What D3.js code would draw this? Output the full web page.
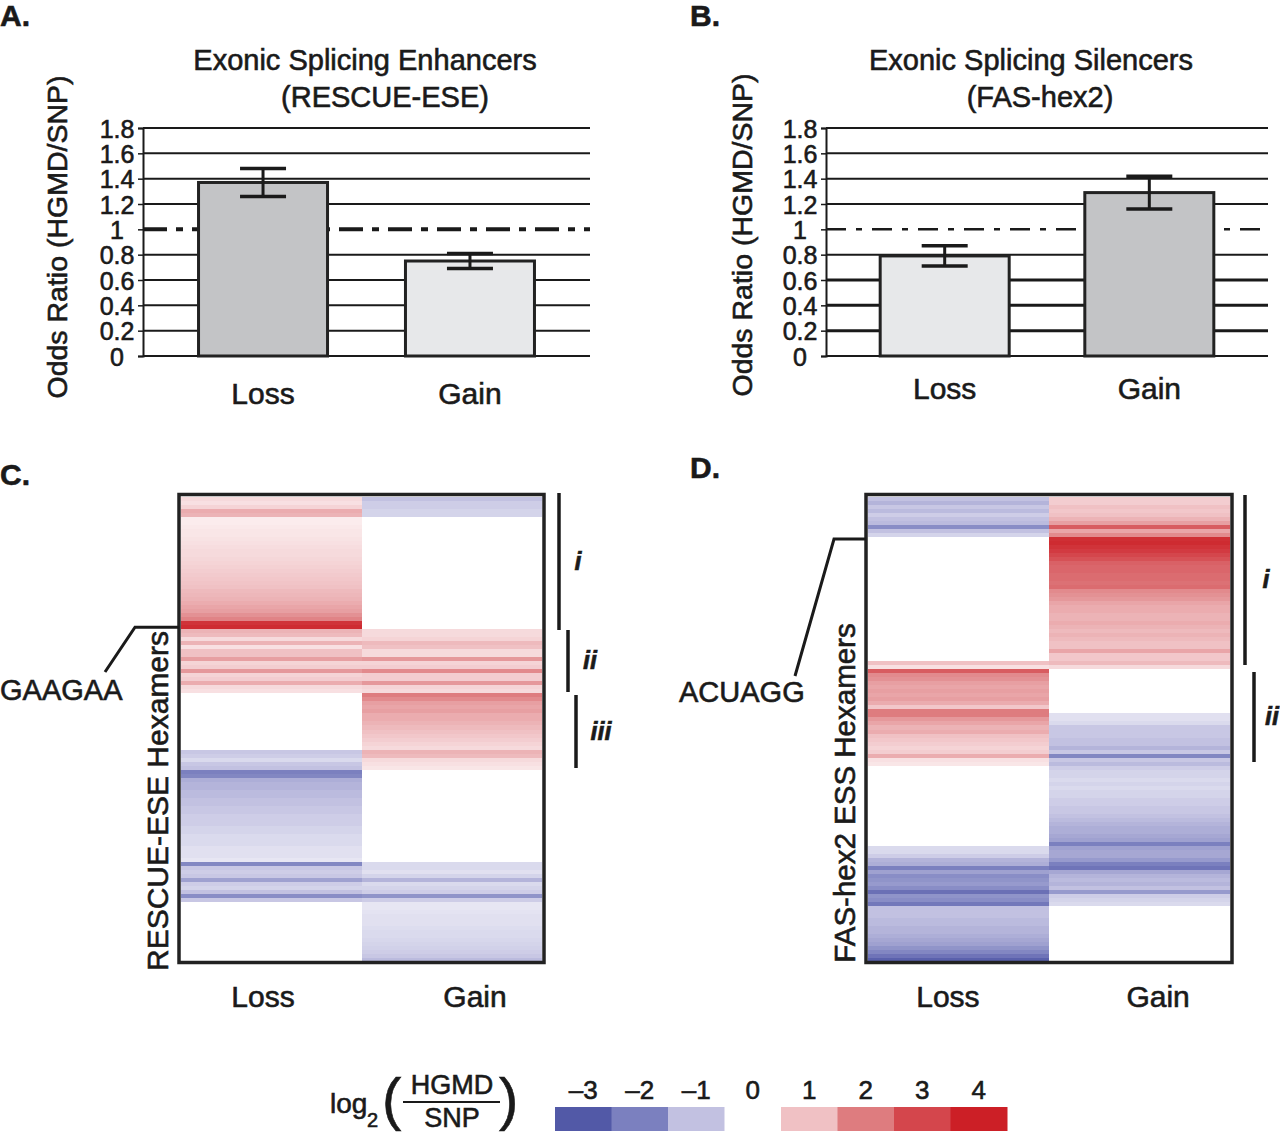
<!DOCTYPE html>
<html>
<head>
<meta charset="utf-8">
<script src="https://cdn.jsdelivr.net/npm/d3@7"></script>
<style>
  body { margin: 0; background: #fff; }
  svg { display: block; font-family: "Liberation Sans", Arial, Helvetica, sans-serif; }
  svg text { stroke: #1a1a1a; stroke-width: 0.6px; }
</style>
</head>
<body>
<div id="chart"></div>
<script>
// ---- data ----
const categories = ["Loss", "Gain"];

// panel A: RESCUE-ESE odds ratios
const eseValues = [1.37, 0.75];
const eseErrLow = [1.26, 0.69];
const eseErrHigh = [1.48, 0.81];

// panel B: FAS-hex2 odds ratios
const essValues = [0.79, 1.29];
const essErrLow = [0.71, 1.16];
const essErrHigh = [0.87, 1.42];

const yTicks = [0, 0.2, 0.4, 0.6, 0.8, 1, 1.2, 1.4, 1.6, 1.8];

// panel C heatmap, log2(HGMD/SNP) per hexamer row (top to bottom)
const eseLoss = [
  0.6, 0.5, 0.7, 1.3, 1.2,
  0.3, 0.3, 0.35, 0.4, 0.4, 0.45, 0.5, 0.55, 0.6, 0.6, 0.65, 0.7, 0.75, 0.8, 0.85,
  0.9, 0.95, 1.0, 1.1, 1.15, 1.2, 1.3, 1.4, 1.5, 1.7, 1.9, 3.5, 3.7,
  1.2, 1.1, 0.6, 1.2, 0.5, 1.0, 1.0, 1.5, 0.7, 0.8, 1.6, 0.7, 0.8, 1.3, 0.6, 0.5,
  0, 0, 0, 0, 0, 0, 0, 0, 0, 0, 0, 0, 0, 0,
  -0.9, -0.8, -0.6, -0.9, -1.0,
  -2.0, -1.9, -1.3, -1.2, -1.2, -1.1, -1.1, -1.0, -1.0, -0.9, -0.9, -0.8, -0.8, -0.8,
  -0.7, -0.7, -0.6, -0.6, -0.6, -0.5, -0.5, -0.5, -0.4,
  -1.9, -0.9, -0.8, -0.9, -1.5, -0.8, -0.7, -1.0, -1.8, -0.9,
  0, 0, 0, 0, 0, 0, 0, 0, 0, 0, 0, 0, 0, 0, 0
];
const eseGain = [
  -1.0, -0.8, -0.8, -0.7, -0.7,
  0, 0, 0, 0, 0, 0, 0, 0, 0, 0, 0, 0, 0, 0, 0, 0, 0, 0, 0, 0, 0, 0, 0, 0, 0, 0, 0, 0,
  0.6, 0.6, 0.7, 1.1, 1.0, 0.6, 0.6, 1.6, 0.7, 0.8, 1.8, 0.8, 0.8, 1.6, 0.7, 0.6,
  2.0, 1.8, 1.5, 1.4, 1.5, 1.3, 1.3, 1.2, 1.1, 1.0, 0.9, 0.8, 0.7, 0.6,
  1.2, 1.1, 0.6, 0.5, 0.4,
  0, 0, 0, 0, 0, 0, 0, 0, 0, 0, 0, 0, 0, 0, 0, 0, 0, 0, 0, 0, 0, 0, 0,
  -0.6, -0.6, -0.5, -0.7, -1.2, -0.6, -0.7, -0.8, -1.7, -0.8,
  -0.4, -0.4, -0.45, -0.5, -0.5, -0.5, -0.55, -0.6, -0.6, -0.65, -0.7, -0.75, -0.8, -0.9, -1.1
];

// panel D heatmap
const essLoss = [
  -1.0, -1.2, -0.9, -1.1, -0.8, -1.0, -1.1, -1.8, -1.0, -0.7,
  0, 0, 0, 0, 0, 0, 0, 0, 0, 0, 0, 0, 0, 0, 0, 0, 0, 0, 0, 0, 0, 0, 0, 0, 0, 0, 0, 0, 0, 0, 0,
  1.0, 0.5,
  2.6, 1.8, 1.7, 1.5, 1.4, 1.5, 1.4, 1.5, 1.3, 0.9, 2.0,
  2.0, 1.6, 1.4, 1.2, 1.3, 1.0, 0.9, 0.8, 0.7, 0.8, 1.3, 0.5, 0.4,
  0, 0, 0, 0, 0, 0, 0, 0, 0, 0, 0, 0, 0, 0, 0, 0, 0, 0, 0, 0,
  -0.6, -0.6, -0.8, -1.2, -1.3, -2.0, -1.5, -1.8, -1.7, -1.6, -1.8, -2.4, -1.7, -1.8, -2.2,
  -1.0, -1.0, -1.0, -1.1, -1.1, -1.2, -1.2, -1.3, -1.4, -1.5, -1.7, -1.9, -2.3, -2.8
];
const essGain = [
  0.8, 0.8, 1.0, 0.9, 1.0, 1.2, 1.5, 2.6, 1.4, 1.8,
  3.6, 3.7, 3.5, 3.3, 3.0, 2.8, 2.5, 2.4, 2.4, 2.3, 2.3, 2.2, 2.3, 1.8, 1.7,
  1.6, 1.4, 1.3, 1.3, 1.2, 1.2, 1.3, 1.2, 1.1, 1.2, 1.1, 1.0, 1.0, 1.4, 0.9, 0.9,
  1.1, 0.6,
  0, 0, 0, 0, 0, 0, 0, 0, 0, 0, 0,
  -0.5, -0.5, -0.6, -0.9, -0.9, -0.9, -1.0, -1.0, -1.2, -0.9, -1.9, -0.9, -1.1,
  -0.8, -0.7, -0.7, -0.6, -0.7, -0.6, -0.7, -0.7, -0.8, -0.8, -0.9, -0.9, -1.0, -1.1,
  -1.2, -1.3, -1.3, -1.4, -1.5, -2.0,
  -1.5, -1.4, -1.4, -1.6, -2.0, -2.3, -1.4, -1.2, -1.1, -1.2, -1.0, -1.6, -0.8, -0.7, -0.6,
  0, 0, 0, 0, 0, 0, 0, 0, 0, 0, 0, 0, 0, 0
];

// legend
const legendSteps = [-3, -2, -1, 0, 1, 2, 3, 4];
const legendColors = ["#5259a7", "#7b80bf", "#c2c1e1", "#ffffff", "#f0c1c4", "#de7c7f", "#d4464c", "#cc1f26"];

const W = 1280, H = 1134;
const svg = d3.select("#chart").append("svg").attr("width", W).attr("height", H);

const heatColor = d3.scaleLinear().domain(legendSteps).range(legendColors).clamp(true);
const ink = "#1a1a1a";

// category positions shared by bar chart and heatmap below it
function catScale(x0, x1) {
  return d3.scalePoint().domain(categories).range([x0, x1]).padding(0.58);
}

// ---- bar chart panels ----
function barPanel(o) {
  const g = svg.append("g");
  const y = d3.scaleLinear().domain([0, 1.8]).range([356, 128]);
  const x = catScale(o.x0, o.x1);
  const bw = 129;

  // gridlines
  g.selectAll("line.grid").data(yTicks.filter(t => t !== 1)).enter()
    .append("line")
    .attr("x1", o.x0).attr("x2", o.x1)
    .attr("y1", d => y(d)).attr("y2", d => y(d))
    .attr("stroke", ink).attr("stroke-width", d => d === 0 ? 2 : o.gridW(d));

  // reference line at 1
  g.append("line")
    .attr("x1", o.x0).attr("x2", o.x1).attr("y1", y(1)).attr("y2", y(1))
    .attr("stroke", ink).attr("stroke-width", o.refW)
    .attr("stroke-dasharray", o.refDash);

  // axis
  const ax = g.append("g").attr("transform", `translate(${o.x0},0)`)
    .call(d3.axisLeft(y).tickValues(yTicks).tickSize(5).tickFormat(d3.format("~g")));
  ax.select(".domain").attr("stroke", ink).attr("stroke-width", 2);
  ax.selectAll(".tick line").attr("stroke", ink).attr("stroke-width", 1.5);
  ax.selectAll(".tick text")
    .attr("x", -26).attr("text-anchor", "middle")
    .attr("font-size", 25).attr("font-family", "Liberation Sans, Arial, sans-serif")
    .attr("fill", ink).attr("dy", "0.36em");

  // bars
  g.selectAll("rect.bar").data(o.values).enter()
    .append("rect")
    .attr("x", (d, i) => x(categories[i]) - bw / 2)
    .attr("width", bw)
    .attr("y", d => y(d))
    .attr("height", d => y(0) - y(d))
    .attr("fill", (d, i) => o.fills[i])
    .attr("stroke", "#222").attr("stroke-width", 3);

  // error bars
  const cap = 23;
  categories.forEach((c, i) => {
    const cx = x(c);
    g.append("line").attr("x1", cx).attr("x2", cx)
      .attr("y1", y(o.lo[i])).attr("y2", y(o.hi[i]))
      .attr("stroke", ink).attr("stroke-width", 3);
    [o.lo[i], o.hi[i]].forEach(v => {
      g.append("line").attr("x1", cx - cap).attr("x2", cx + cap)
        .attr("y1", y(v)).attr("y2", y(v))
        .attr("stroke", ink).attr("stroke-width", 3.5);
    });
    g.append("text").attr("x", cx).attr("y", o.catY)
      .attr("text-anchor", "middle").attr("font-size", 30).attr("fill", ink)
      .text(c);
  });

  // y label
  g.append("text")
    .attr("transform", `translate(${o.ylabX},${o.ylabY}) rotate(-90)`)
    .attr("text-anchor", "middle").attr("dy", "0.35em")
    .attr("font-size", 28.5).attr("fill", ink)
    .text("Odds Ratio (HGMD/SNP)");

  // title
  g.append("text").attr("x", o.t1x).attr("y", 70).attr("text-anchor", "middle")
    .attr("font-size", 29).attr("fill", ink).text(o.title1);
  g.append("text").attr("x", o.t2x).attr("y", 107).attr("text-anchor", "middle")
    .attr("font-size", 29).attr("fill", ink).text(o.title2);

  g.append("text").attr("x", o.letterX).attr("y", 26)
    .attr("font-size", 30).attr("font-weight", "bold").attr("fill", ink).text(o.letter);
}

barPanel({
  x0: 143, x1: 590, values: eseValues, lo: eseErrLow, hi: eseErrHigh,
  fills: ["#c3c4c6", "#e7e8ea"], refW: 4, refDash: "24 9 7 9",
  gridW: () => 2, catY: 404, ylabX: 57, ylabY: 237,
  title1: "Exonic Splicing Enhancers", title2: "(RESCUE-ESE)", t1x: 365, t2x: 385,
  letter: "A.", letterX: 0
});
barPanel({
  x0: 826, x1: 1268, values: essValues, lo: essErrLow, hi: essErrHigh,
  fills: ["#e7e8ea", "#c3c4c6"], refW: 2.5, refDash: "20 10 6 10",
  gridW: d => d < 0.7 ? 3 : 2, catY: 399, ylabX: 742, ylabY: 235,
  title1: "Exonic Splicing Silencers", title2: "(FAS-hex2)", t1x: 1031, t2x: 1040,
  letter: "B.", letterX: 690
});

// ---- heatmap panels ----
function heatPanel(o) {
  const g = svg.append("g");
  const n = o.loss.length;
  const y = d3.scaleBand().domain(d3.range(n)).range([497, 962]);
  const x = d3.scaleBand().domain(categories).range([o.left + 2, o.right - 2]);
  const cols = [o.loss, o.gain];
  cols.forEach((arr, ci) => {
    g.selectAll(null).data(arr).enter()
      .append("rect")
      .attr("x", x(categories[ci]))
      .attr("width", x.bandwidth())
      .attr("y", (d, i) => y(i))
      .attr("height", y.bandwidth() + 0.4)
      .attr("fill", d => heatColor(d))
      .attr("shape-rendering", "crispEdges");
  });
  g.append("rect")
    .attr("x", o.left).attr("y", 494.5)
    .attr("width", o.right - o.left).attr("height", 468)
    .attr("fill", "none").attr("stroke", "#222").attr("stroke-width", 3.5);

  const lx = catScale(o.catX0, o.catX1);
  categories.forEach(c => {
    g.append("text").attr("x", lx(c)).attr("y", 1007)
      .attr("text-anchor", "middle").attr("font-size", 30).attr("fill", ink).text(c);
  });

  g.append("text")
    .attr("transform", `translate(${o.ylabX},${o.ylabY}) rotate(-90)`)
    .attr("text-anchor", "middle").attr("dy", "0.35em")
    .attr("font-size", o.ylabSize).attr("fill", ink).text(o.ylab);

  // region brackets
  o.brackets.forEach(b => {
    g.append("line").attr("x1", b.x).attr("x2", b.x).attr("y1", b.y0).attr("y2", b.y1)
      .attr("stroke", ink).attr("stroke-width", 3.5);
    g.append("text").attr("x", b.x + b.dx).attr("y", (b.y0 + b.y1) / 2 + 8)
      .attr("text-anchor", "middle").attr("font-size", 25)
      .attr("font-style", "italic").attr("font-weight", "bold").attr("fill", ink).text(b.label);
  });

  // highlighted hexamer pointer
  const py = y(o.pointRow) + y.bandwidth() / 2;
  g.append("path")
    .attr("d", `M${o.left},${py} H${o.pointKneeX} L${o.pointEndX},${o.pointEndY}`)
    .attr("fill", "none").attr("stroke", ink).attr("stroke-width", 3);
  g.append("text").attr("x", o.hexX).attr("y", o.hexY)
    .attr("font-size", 29).attr("fill", ink).text(o.hex);

  g.append("text").attr("x", o.letterX).attr("y", o.letterY)
    .attr("font-size", 30).attr("font-weight", "bold").attr("fill", ink).text(o.letter);
}

heatPanel({
  left: 179, right: 544, loss: eseLoss, gain: eseGain, catX0: 140, catX1: 598,
  ylab: "RESCUE-ESE Hexamers", ylabX: 157, ylabY: 801, ylabSize: 30,
  brackets: [
    { x: 559, y0: 493, y1: 630, dx: 19, label: "i" },
    { x: 568, y0: 630, y1: 692, dx: 22, label: "ii" },
    { x: 576, y0: 695, y1: 768, dx: 25, label: "iii" }
  ],
  pointRow: 32, pointKneeX: 135, pointEndX: 105, pointEndY: 672,
  hex: "GAAGAA", hexX: 0, hexY: 700,
  letter: "C.", letterX: 0, letterY: 485
});
heatPanel({
  left: 866, right: 1232, loss: essLoss, gain: essGain, catX0: 826, catX1: 1280,
  ylab: "FAS-hex2 ESS Hexamers", ylabX: 845, ylabY: 793, ylabSize: 29.5,
  brackets: [
    { x: 1245, y0: 495, y1: 665, dx: 21, label: "i" },
    { x: 1254, y0: 672, y1: 762, dx: 18, label: "ii" }
  ],
  pointRow: 10, pointKneeX: 834, pointEndX: 795, pointEndY: 676,
  hex: "ACUAGG", hexX: 679, hexY: 702,
  letter: "D.", letterX: 690, letterY: 478
});

// ---- legend ----
const lg = svg.append("g");
const lx = d3.scaleBand().domain(legendSteps).range([555, 1007]);
lg.selectAll("rect").data(legendSteps).enter()
  .append("rect")
  .attr("x", d => lx(d)).attr("width", lx.bandwidth() + 0.5)
  .attr("y", 1107).attr("height", 24)
  .attr("fill", (d, i) => legendColors[i]);
lg.selectAll("text.tk").data(legendSteps).enter()
  .append("text")
  .attr("x", d => lx(d) + lx.bandwidth() / 2).attr("y", 1099)
  .attr("text-anchor", "middle").attr("font-size", 26).attr("fill", ink)
  .text(d => d < 0 ? "\u2013" + Math.abs(d) : d);

lg.append("text").attr("x", 330).attr("y", 1113).attr("font-size", 28).attr("fill", ink).text("log");
lg.append("text").attr("x", 367).attr("y", 1127).attr("font-size", 20).attr("fill", ink).text("2");
lg.append("text").attr("x", 382).attr("y", 1119).attr("font-size", 58)
  .attr("fill", ink).attr("stroke-width", 1.5).text("(");
lg.append("text").attr("x", 499).attr("y", 1119).attr("font-size", 58)
  .attr("fill", ink).attr("stroke-width", 1.5).text(")");
lg.append("text").attr("x", 452).attr("y", 1094).attr("text-anchor", "middle")
  .attr("font-size", 27).attr("fill", ink).text("HGMD");
lg.append("line").attr("x1", 403).attr("x2", 500).attr("y1", 1102).attr("y2", 1102)
  .attr("stroke", ink).attr("stroke-width", 2);
lg.append("text").attr("x", 452).attr("y", 1127).attr("text-anchor", "middle")
  .attr("font-size", 27).attr("fill", ink).text("SNP");
</script>
</body>
</html>
